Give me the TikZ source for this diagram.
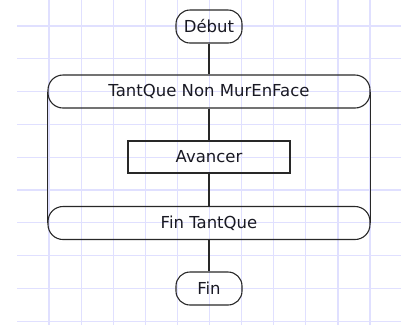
\documentclass[tikz,border=0pt]{standalone}
\usepackage{fontspec}
\setmainfont{DejaVu Sans}
\usetikzlibrary{positioning}
\definecolor{gridblue}{RGB}{224,224,255}
\definecolor{inkgray}{RGB}{40,40,40}
\definecolor{textink}{RGB}{25,25,35}

\tikzset{
  terminal/.style={draw=inkgray, line width=1.1pt, rounded corners=14pt, minimum width=66pt, minimum height=33pt, inner sep=0pt},
  loopbox/.style={draw=inkgray, line width=1.1pt, rounded corners=15pt, minimum width=322pt, minimum height=33pt, inner sep=0pt},
  actionbox/.style={draw=inkgray, line width=1.1pt, minimum width=162pt, minimum height=32pt, inner sep=0pt},
  flow/.style={inkgray, line width=1.1pt},
  gridline/.style={gridblue, line width=1.2pt}
}

\begin{document}
\begin{tikzpicture}[x=1pt, y=-1pt, font=\fontsize{16.5}{19}\selectfont, text=textink]
  \useasboundingbox (0,0) rectangle (401,325);
  % squared paper
  \foreach \gx in {0,...,10}
    \draw[gridline] ({49+32.1*\gx},0) -- ({49+32.1*\gx},325);
  \foreach \gy in {0,...,9}
    \draw[gridline] (17,{26+32.8*\gy}) -- (401,{26+32.8*\gy});

  \node[terminal] (debut) at (209,26.5) {Début};
  \node[loopbox] (tantque) at (209,91.5) {TantQue Non MurEnFace};
  \node[actionbox] (avancer) at (209,157) {Avancer};
  \node[loopbox] (fintq) at (209,223) {Fin TantQue};
  \node[terminal] (fin) at (209,288.5) {Fin};

  \draw[flow] (debut) -- (tantque);
  \draw[flow] (tantque) -- (avancer);
  \draw[flow] (avancer) -- (fintq);
  \draw[flow] (fintq) -- (fin);
  % sides of the loop
  \draw[flow] (tantque.west) -- (fintq.west);
  \draw[flow] (tantque.east) -- (fintq.east);
\end{tikzpicture}
\end{document}
